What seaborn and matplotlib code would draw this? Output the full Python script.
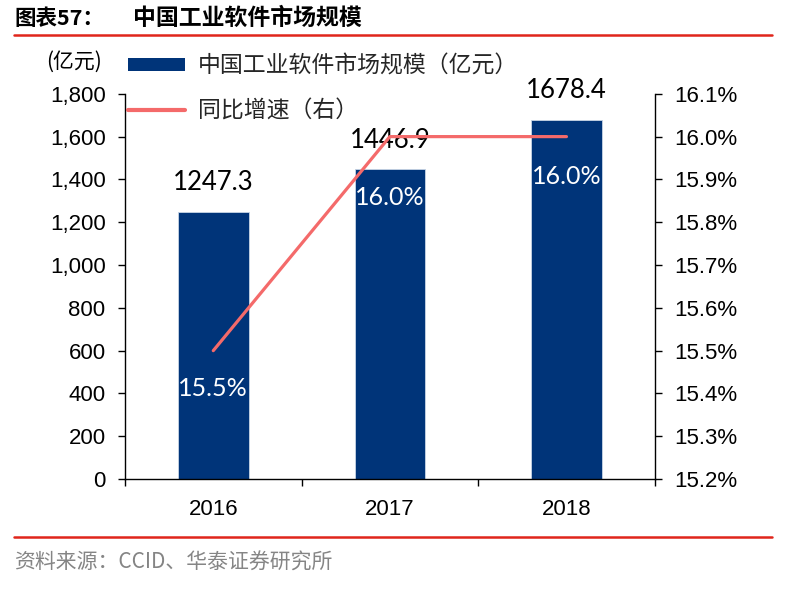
import numpy as np
import pandas as pd
import seaborn as sns
import matplotlib.pyplot as plt
from matplotlib.lines import Line2D
from matplotlib.patches import Patch
from matplotlib.ticker import FuncFormatter, FixedLocator

# data
years = ["2016", "2017", "2018"]
market_size = [1247.3, 1446.9, 1678.4]   # 亿元
growth = [15.5, 16.0, 16.0]              # %
growth_labels = ["15.5%", "16.0%", "16.0%"]

title_no = "图表57："
title_text = "中国工业软件市场规模"
bar_name = "中国工业软件市场规模（亿元）"
line_name = "同比增速（右）"
unit_text = "(亿元)"
source_text = "资料来源：CCID、华泰证券研究所"

bar_color = "#003479"
line_color = "#F46A6A"
red_rule = "#E0251B"

sns.set_theme(style="white")
plt.rcParams['font.family'] = ['Liberation Sans', 'Noto Sans CJK SC', 'DejaVu Sans']
cjk = ['Noto Sans CJK SC', 'DejaVu Sans']

df = pd.DataFrame({"year": years, "size": market_size, "growth": growth})

fig = plt.figure(figsize=(7.86, 5.90), dpi=100)
ax = fig.add_axes([0.159, 0.188, 0.674, 0.653])

sns.barplot(data=df, x="year", y="size", color=bar_color, width=0.4,
            saturation=1, edgecolor="#c9d5e6", linewidth=0.6, ax=ax)
ax.set_xlim(-0.5, 2.5)
ax.set_ylim(0, 1800)
ax.set_yticks(np.arange(0, 1801, 200))
ax.yaxis.set_major_formatter(FuncFormatter(lambda v, p: f"{v:,.0f}"))
ax.set_xlabel("")
ax.set_ylabel("")

# value labels above bars
for i, v in enumerate(market_size):
    ax.annotate(f"{v:.1f}", (i, v), xytext=(0, 21), textcoords="offset points",
                ha="center", va="center", fontsize=18.5, family="Lato", color="black")

ax2 = ax.twinx()
sns.pointplot(data=df, x="year", y="growth", color=line_color, marker="",
              linewidth=2.3, errorbar=None, ax=ax2)
for ln in ax2.lines:
    ln.set_solid_capstyle("round")
ax2.set_xlim(-0.5, 2.5)
ax2.set_ylim(15.2, 16.1)
ax2.set_yticks(np.arange(15.2, 16.11, 0.1))
ax2.yaxis.set_major_formatter(FuncFormatter(lambda v, p: f"{v:.1f}%"))
ax2.set_ylabel("")
ax2.set_xlabel("")

# growth labels inside bars
offsets = [-27, -44, -29]
for i, (g, lab) in enumerate(zip(growth, growth_labels)):
    ax2.annotate(lab, (i, g), xytext=(0, offsets[i]), textcoords="offset points",
                 ha="center", va="center", fontsize=18, family="Lato", color="white")

# spines and ticks
for a in (ax, ax2):
    for s in a.spines.values():
        s.set_visible(False)
ax.spines["left"].set_visible(True)
ax.spines["bottom"].set_visible(True)
ax2.spines["right"].set_visible(True)
for s in (ax.spines["left"], ax.spines["bottom"], ax2.spines["right"]):
    s.set_color("black")
    s.set_linewidth(1.0)

ax.tick_params(axis="y", which="major", direction="out", length=5, width=1,
               color="black", labelsize=16, pad=9, left=True, labelcolor="black")
ax.tick_params(axis="x", which="major", length=0, labelsize=16, pad=14, labelcolor="black")
ax.xaxis.set_minor_locator(FixedLocator([-0.5, 0.5, 1.5, 2.5]))
ax.tick_params(axis="x", which="minor", direction="out", length=5, width=1,
               color="black", bottom=True)
ax2.tick_params(axis="y", which="major", direction="out", length=5, width=1,
                color="black", labelsize=16, pad=9, right=True, labelcolor="black")
ax.grid(False)
ax2.grid(False)

# legend
handles = [Patch(facecolor=bar_color, edgecolor="none"),
           Line2D([0], [0], color=line_color, linewidth=3)]
fig.legend(handles, [bar_name, line_name], loc="upper left",
           bbox_to_anchor=(0.163, 0.907), frameon=False, borderpad=0,
           borderaxespad=0, handlelength=2.5, handleheight=0.5,
           handletextpad=0.55, labelspacing=0.95,
           prop={"family": cjk, "size": 16.5})

# header, footer
fig.text(0.018, 0.969, title_no, ha="left", va="center", fontsize=15.5,
         fontweight="bold", family=cjk, color="black")
fig.text(0.169, 0.969, title_text, ha="left", va="center", fontsize=16.5,
         fontweight="bold", family=cjk, color="black")
fig.add_artist(Line2D([0.018, 0.982], [0.941, 0.941], color=red_rule, linewidth=1.8))
fig.text(0.059, 0.895, unit_text, ha="left", va="center", fontsize=15,
         family=cjk, color="black")
fig.add_artist(Line2D([0.018, 0.982], [0.09, 0.09], color=red_rule, linewidth=1.8))
fig.text(0.018, 0.046, source_text, ha="left", va="center", fontsize=15,
         family=cjk, color="#858585")

fig.savefig("out.png", dpi=100)
